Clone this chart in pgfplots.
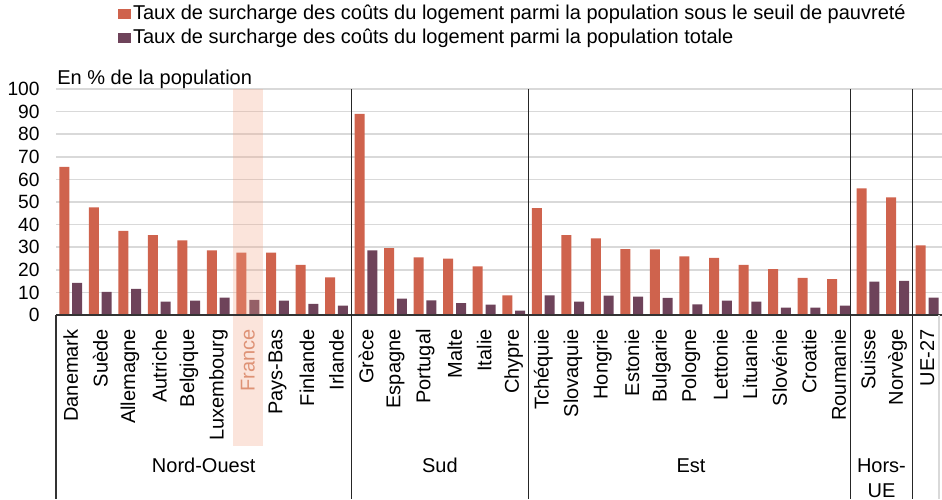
\documentclass[border=0pt]{standalone}
\usepackage{pgfplots}
\pgfplotsset{compat=1.18}
\usepackage{fontspec}
\setmainfont{Liberation Sans}

\definecolor{rouge}{RGB}{207,99,77}
\definecolor{prune}{RGB}{110,67,90}
\definecolor{grille}{RGB}{217,217,217}
\definecolor{surligne}{RGB}{242,165,135}
\definecolor{francetxt}{RGB}{214,138,110}

% seuil de pauvrete / population totale
\pgfplotstableread{
x  pauv  tot
0  65.5  14.2
1  47.6  10.2
2  37.2  11.6
3  35.3  5.9
4  33.0  6.4
5  28.6  7.7
6  27.6  6.7
7  27.6  6.4
8  22.2  4.9
9  16.6  4.1
10 89.0  28.6
11 29.6  7.3
12 25.5  6.5
13 24.9  5.3
14 21.5  4.6
15 8.7   1.9
16 47.3  8.7
17 35.3  5.9
18 33.9  8.6
19 29.2  8.1
20 29.0  7.6
21 25.9  4.7
22 25.3  6.4
23 22.2  5.9
24 20.3  3.3
25 16.4  3.3
26 15.9  4.1
27 56.0  14.8
28 52.1  15.1
29 30.8  7.7
}\donnees

\begin{document}
\begin{tikzpicture}[x=0.5pt,y=0.5pt]
\useasboundingbox (0,0) rectangle (942,499);
\begin{axis}[
    at={(28pt,92pt)}, anchor=south west,
    scale only axis, width=443pt, height=113pt,
    xmin=-0.5, xmax=29.5, ymin=0, ymax=100,
    ybar, bar width=5pt,
    axis line style={draw=none},
    ytick={0,10,...,100},
    xtick={0,...,29},
    xticklabels={Danemark,Suède,Allemagne,Autriche,Belgique,Luxembourg,{\color{francetxt}France},Pays-Bas,Finlande,Irlande,
      Grèce,Espagne,Portugal,Malte,Italie,Chypre,
      Tchéquie,Slovaquie,Hongrie,Estonie,Bulgarie,Pologne,Lettonie,Lituanie,Slovénie,Croatie,Roumanie,
      Suisse,Norvège,UE-27},
    major tick length=0pt,
    ymajorgrids, grid style={draw=grille, line width=0.75pt},
    /pgf/number format/assume math mode=true,
    yticklabel style={anchor=east, inner sep=0pt, font=\fontsize{9.6}{10}\selectfont},
    yticklabel shift=8pt,
    xticklabel style={rotate=90, anchor=east, inner sep=0pt, font=\fontsize{10}{12}\selectfont},
    xticklabel shift=7pt,
    clip=false,
    legend style={at={(axis description cs:0.07,1.38)}, anchor=north west,
      draw=none, fill=none, inner sep=0pt, row sep=1.5pt,
      font=\fontsize{10}{12}\selectfont,
      nodes={inner sep=0.8pt}},
    legend cell align=left,
]
\addplot[fill=rouge, draw=none, bar shift=-3.25pt,
  legend image code/.code={\fill[rouge] (0pt,-2.5pt) rectangle (6.5pt,2.5pt);}]
  table[x=x, y=pauv] {\donnees};
\addlegendentry{Taux de surcharge des coûts du logement parmi la population sous le seuil de pauvreté}
\addplot[fill=prune, draw=none, bar shift=3.15pt,
  legend image code/.code={\fill[prune] (0pt,-2.5pt) rectangle (6.5pt,2.5pt);}]
  table[x=x, y=tot] {\donnees};
\addlegendentry{Taux de surcharge des coûts du logement parmi la population totale}

% France en surbrillance
\fill[surligne, fill opacity=0.3] (axis cs:5.5,100) rectangle ([yshift=-65.3pt]axis cs:6.5,0);

% axe et separateurs
\draw[black!80, line width=0.75pt] (axis cs:-0.5,0) -- (axis cs:29.5,0);
\draw[black!80, line width=0.6pt] (axis cs:-0.5,0) -- ([yshift=-92pt]axis cs:-0.5,0);
\draw[grille, line width=0.6pt] (axis cs:29.4,0) -- ([yshift=-92pt]axis cs:29.4,0);
\pgfplotsinvokeforeach{9.5,15.5,26.4,28.5}{
  \draw[black!85, line width=0.6pt] (axis cs:#1,100) -- ([yshift=-92pt]axis cs:#1,0);
}

\node[anchor=base west, font=\fontsize{10}{12}\selectfont, inner sep=0pt]
  at ([xshift=0.5pt, yshift=2.5pt]axis cs:-0.5,100) {En \% de la population};

\begin{scope}[font=\fontsize{10}{12}\selectfont]
\node[anchor=base] at ([yshift=-78.5pt]axis cs:4.5,0) {Nord-Ouest};
\node[anchor=base] at ([yshift=-78.5pt]axis cs:12.5,0) {Sud};
\node[anchor=base] at ([yshift=-78.5pt]axis cs:21,0) {Est};
\node[anchor=base] at ([yshift=-78.5pt]axis cs:27.45,0) {Hors-};
\node[anchor=base] at ([yshift=-91pt]axis cs:27.45,0) {UE};
\end{scope}
\end{axis}
\end{tikzpicture}
\end{document}
